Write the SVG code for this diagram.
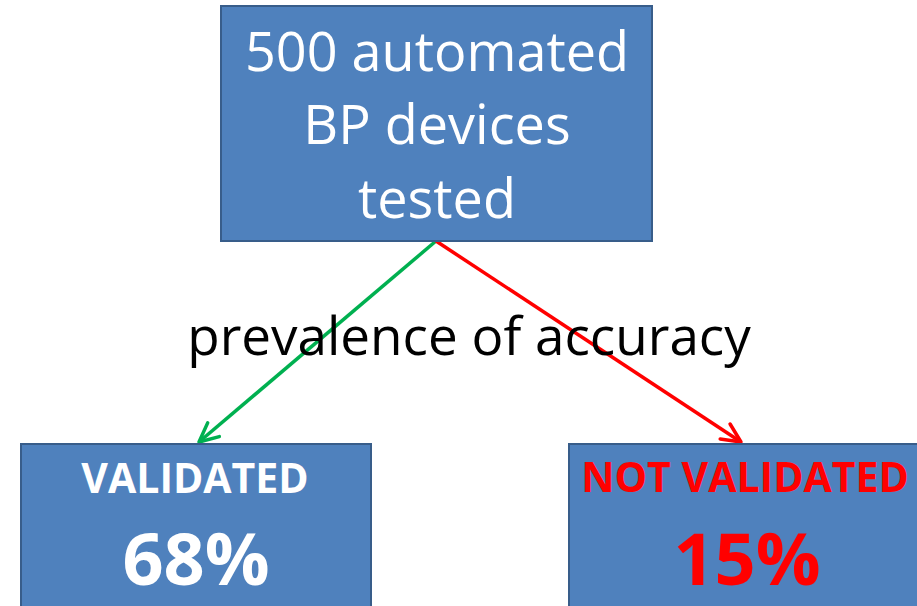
<svg xmlns="http://www.w3.org/2000/svg" width="917" height="606" viewBox="0 0 917 606">
<style>
.box{fill:#4F81BD;stroke:#385D8A;stroke-width:2}
.t{font-family:"Open Sans","Liberation Sans",sans-serif;text-anchor:middle}
.w{fill:#FFFFFF}
.r{fill:#FF0000}
.b{font-weight:bold}
</style>
<defs>
<marker id="ag" viewBox="0 0 24 24" refX="22" refY="12" markerWidth="24" markerHeight="24" markerUnits="userSpaceOnUse" orient="auto">
<path d="M3,3 L22,12 L3,21" fill="none" stroke="#00B050" stroke-width="3.5" stroke-linecap="round" stroke-linejoin="round"/>
</marker>
<marker id="ar" viewBox="0 0 24 24" refX="22" refY="12" markerWidth="24" markerHeight="24" markerUnits="userSpaceOnUse" orient="auto">
<path d="M3,3 L22,12 L3,21" fill="none" stroke="#FF0000" stroke-width="3.5" stroke-linecap="round" stroke-linejoin="round"/>
</marker>
</defs>
<rect width="917" height="606" fill="#FFFFFF"/>
<g id="connectors">
<line x1="436" y1="241" x2="199" y2="442" stroke="#00B050" stroke-width="3.5" marker-end="url(#ag)"/>
<line x1="436" y1="241" x2="741" y2="442" stroke="#FF0000" stroke-width="3.5" marker-end="url(#ar)"/>
</g>
<g id="label">
<text class="t" x="469" y="355" font-size="53" fill="#000000">prevalence of accuracy</text>
</g>
<g id="top">
<rect class="box" x="221" y="6" width="431" height="235"/>
<text class="t w" x="437" y="71" font-size="54">500 automated</text>
<text class="t w" x="437" y="144" font-size="54">BP devices</text>
<text class="t w" x="437" y="218" font-size="54">tested</text>
</g>
<g id="validated">
<rect class="box" x="21" y="444" width="350" height="170"/>
<text class="t w b" x="195" y="493" font-size="41">VALIDATED</text>
<text class="t w b" x="196" y="585" font-size="72">68%</text>
</g>
<g id="notvalidated">
<rect class="box" x="569" y="444" width="360" height="170"/>
<text class="t r b" x="745" y="492" font-size="41">NOT VALIDATED</text>
<text class="t r b" x="747" y="585" font-size="72">15%</text>
</g>
</svg>
